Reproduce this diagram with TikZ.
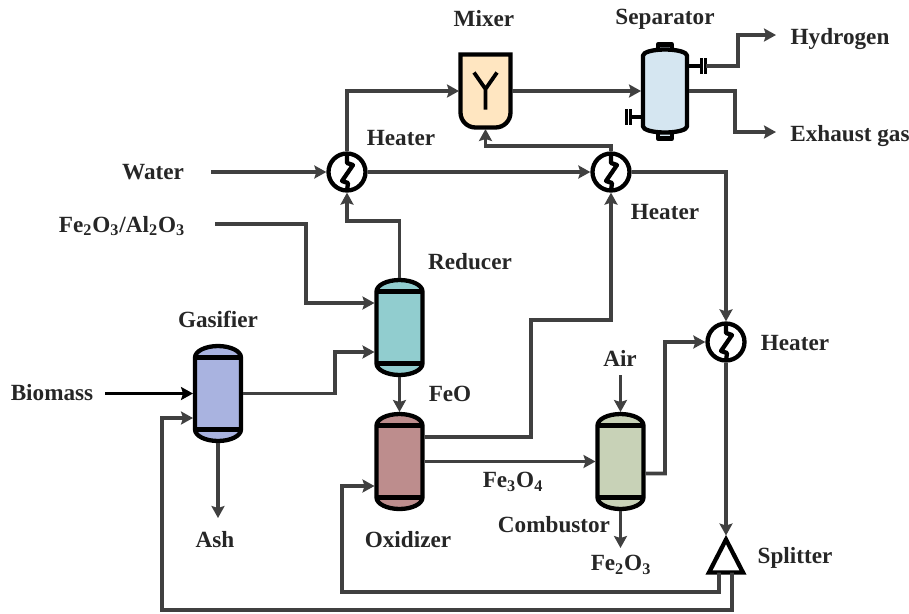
\documentclass[tikz,border=0pt]{standalone}
\usepackage{fontspec}
\setmainfont{Liberation Serif}
\usetikzlibrary{arrows.meta}

\definecolor{flowgray}{HTML}{404040}
\definecolor{gasifierfill}{HTML}{A9B3E0}
\definecolor{reducerfill}{HTML}{91CDCF}
\definecolor{oxidizerfill}{HTML}{BD8D8D}
\definecolor{combustorfill}{HTML}{C8D2B7}
\definecolor{mixerfill}{HTML}{FFE6C1}
\definecolor{separatorfill}{HTML}{D5E6F1}

\tikzset{
  flow/.style={draw=flowgray, line width=.76mm, -{Stealth[length=2.4mm,width=2.6mm,inset=.4mm]}},
  equip/.style={draw=black, line width=.86mm, line join=round},
  label/.style={font=\fontsize{13.2}{15}\selectfont\bfseries, text=black!85, inner sep=0pt},
  vesselbox/.style={minimum width=1cm, minimum height=1.98cm, inner sep=0pt, outer sep=0pt},
  heater/.style={circle, draw=black, line width=.86mm, fill=white, minimum size=.74cm, inner sep=0pt}
}

% name, centre, colour
\newcommand{\vessel}[3]{
  \node[vesselbox] (#1) at (#2) {};
  \draw[equip, fill=#3] ([xshift=.04cm,yshift=-.27cm]#1.north west)
    arc[start angle=180, end angle=0, x radius=.46cm, y radius=.23cm]
    -- ([xshift=-.04cm,yshift=.27cm]#1.south east)
    arc[start angle=360, end angle=180, x radius=.46cm, y radius=.23cm] -- cycle;
  \draw[equip] ([xshift=.04cm,yshift=-.27cm]#1.north west) -- ([xshift=-.04cm,yshift=-.27cm]#1.north east);
  \draw[equip] ([xshift=.04cm,yshift=.27cm]#1.south west) -- ([xshift=-.04cm,yshift=.27cm]#1.south east);
}

\begin{document}
\begin{tikzpicture}[x=.02cm, y=-.02cm]
\useasboundingbox (0,0) rectangle (909,613);

% reactors
\vessel{gasifier}{218,393.5}{gasifierfill}
\vessel{reducer}{399.5,327.5}{reducerfill}
\vessel{oxidizer}{399.5,461.5}{oxidizerfill}
\vessel{combustor}{620.5,461.5}{combustorfill}

% mixer
\node[minimum width=1.06cm, minimum height=1.52cm, inner sep=0pt, outer sep=0pt] (mixer) at (485.5,91) {};
\draw[equip, line join=miter, fill=mixerfill, shift={(mixer)}] (-25,-36.5) -- (25,-36.5) -- (25,21.5)
  arc[start angle=0, end angle=-90, radius=.3cm] -- (-10,36.5)
  arc[start angle=270, end angle=180, radius=.3cm] -- cycle;
\draw[line width=.76mm, shift={(mixer)}] (-11.5,-18.5) -- (0,-2) -- (11.5,-18.5) (0,-2) -- (0,18.5);

% separator
\node[minimum width=.96cm, minimum height=1.72cm, inner sep=0pt, outer sep=0pt] (separator) at (665,91) {};
\draw[equip, fill=separatorfill, shift={(separator)}] (-7,-46.5) rectangle (7,-40) (-7,40) rectangle (7,47.5);
\draw[equip, shift={(separator)}] (24,-25) -- (36,-25) (-24,26) -- (-35,26);
\draw[equip, line width=.6mm, shift={(separator)}] (36,-33) -- (36,-17) (40,-33) -- (40,-17)
  (-35,18) -- (-35,34) (-39,18) -- (-39,34);
\draw[equip, fill=separatorfill] ([xshift=.04cm,yshift=-.15cm]separator.north west)
  arc[start angle=180, end angle=0, x radius=.44cm, y radius=.12cm]
  -- ([xshift=-.04cm,yshift=.15cm]separator.south east)
  arc[start angle=360, end angle=180, x radius=.44cm, y radius=.12cm] -- cycle;
\coordinate (hydrogenport) at (706,66);

% heaters
\node[heater] (heatera) at (347,172) {};
\node[heater] (heaterb) at (611,172) {};
\node[heater] (heaterc) at (726,342) {};
\foreach \h in {heatera,heaterb,heaterc}
    \draw[equip, shift={(\h)}] (0,-19) -- (0,-9) -- (6,-7) -- (-5,9) -- (1,11) -- (0,19);

% splitter
\node[minimum width=.68cm, minimum height=.66cm, inner sep=0pt, outer sep=0pt] (splitter) at (726,556) {};
\draw[equip, line join=miter, fill=white] (splitter.south west) -- (splitter.north) -- (splitter.south east) -- cycle;

% free ends
\coordinate (hydrogenend) at (776,35);
\coordinate (exhaustend) at (776,132);
\coordinate (waterstart) at (211,172);
\coordinate (ironstart) at (215,224);
\coordinate (biomassstart) at (105,393.5);
\coordinate (ashend) at (218,518);
\coordinate (airstart) at (620.5,375);
\coordinate (ironoutend) at (620.5,548);

% streams
\draw[flow] (waterstart) -- (heatera);
\draw[flow] (heatera.east) -- (heaterb.west);
\draw[flow] (heatera.north) |- (mixer.west);
\draw[flow] (mixer.east) -- (separator.west);
\draw[flow] (hydrogenport) -- (738,66) |- (hydrogenend);
\draw[flow] (separator.east) -- (735,91) |- (exhaustend);
\draw[flow] (heaterb.north) -- (611,146) -| (mixer.south);
\draw[flow] (heaterb.east) -| (heaterc.north);
\draw[flow, shorten >=.08cm] (heaterc.south) -- (splitter.north);
\draw[flow] ([yshift=-.24cm]combustor.east) -- (665,473.5) |- (heaterc.west);
\draw[flow] (airstart) -- (combustor.north);
\draw[flow] (combustor.south) -- (ironoutend);
\draw[flow] (oxidizer.east) -- (combustor.west);
\draw[flow] ([yshift=.49cm]oxidizer.east) -- (531,437) -- (531,320) -| (heaterb.south);
\draw[flow] (reducer.south) -- (oxidizer.north);
\draw[flow] (reducer.north) -- (399.5,221) -| (heatera.south);
\draw[flow] (ironstart) -- (306,224) |- ([yshift=.49cm]reducer.west);
\draw[flow] (gasifier.east) -- (335,393.5) |- ([yshift=-.49cm]reducer.west);
\draw[flow, draw=black] (biomassstart) -- (gasifier.west);
\draw[flow] (gasifier.south) -- (ashend);
\draw[flow] ([xshift=-.14cm]splitter.south) -- (719,592) -- (342,592) |- ([yshift=-.49cm]oxidizer.west);
\draw[flow] ([xshift=.12cm]splitter.south) -- (732,610) -- (162,610) |- ([yshift=-.49cm]gasifier.west);

% labels
\node[label] (mixerlabel) at (484,19) {Mixer};
\node[label] (separatorlabel) at (665,19) {Separator};
\node[label] (hydrogenlabel) at (840,39) {Hydrogen};
\node[label] (exhaustlabel) at (850,136) {Exhaust gas};
\node[label] (heateralabel) at (401,138) {Heater};
\node[label] (heaterblabel) at (665,212) {Heater};
\node[label] (heaterclabel) at (795,343) {Heater};
\node[label] (waterlabel) at (153,172) {Water};
\node[label] (ironlabel) at (122,226) {Fe\textsubscript{2}O\textsubscript{3}/Al\textsubscript{2}O\textsubscript{3}};
\node[label] (reducerlabel) at (470,262) {Reducer};
\node[label] (gasifierlabel) at (218,319) {Gasifier};
\node[label] (airlabel) at (620,358) {Air};
\node[label] (biomasslabel) at (52,393) {Biomass};
\node[label] (feolabel) at (450,394) {FeO};
\node[label] (magnetitelabel) at (513,482) {Fe\textsubscript{3}O\textsubscript{4}};
\node[label] (combustorlabel) at (554,525) {Combustor};
\node[label] (ashlabel) at (215,540) {Ash};
\node[label] (oxidizerlabel) at (408,540) {Oxidizer};
\node[label] (hematitelabel) at (621,565) {Fe\textsubscript{2}O\textsubscript{3}};
\node[label] (splitterlabel) at (795,557.5) {Splitter};
\end{tikzpicture}
\end{document}
